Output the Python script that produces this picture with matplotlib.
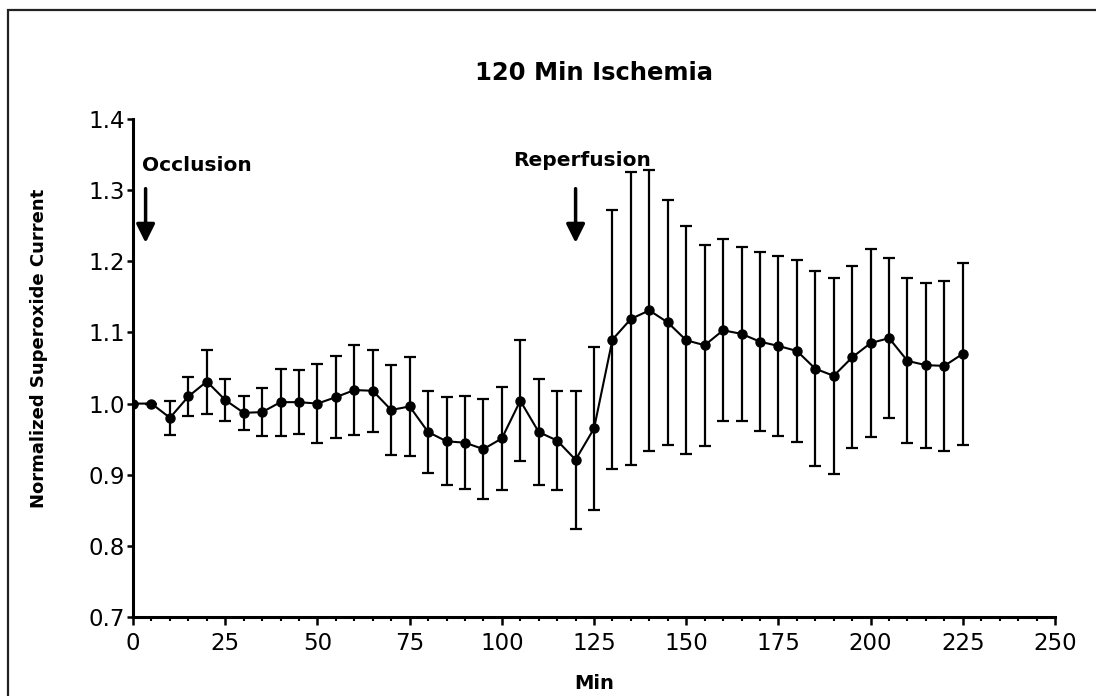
import numpy as np
import matplotlib
matplotlib.use("Agg")
from matplotlib import pyplot as plt
from matplotlib.patches import Rectangle

# time after occlusion (min), mean normalized current and SEM
minutes = np.arange(0, 230, 5)
mean_current = [1.000, 1.000, 0.980, 1.010, 1.031, 1.005, 0.987, 0.988, 1.002, 1.002,
                1.000, 1.009, 1.019, 1.018, 0.991, 0.996, 0.960, 0.947, 0.945, 0.936,
                0.951, 1.004, 0.960, 0.948, 0.921, 0.965, 1.090, 1.119, 1.131, 1.114,
                1.089, 1.082, 1.103, 1.098, 1.087, 1.081, 1.074, 1.049, 1.039, 1.065,
                1.085, 1.092, 1.060, 1.054, 1.053, 1.070]
sem_current = [0.000, 0.000, 0.024, 0.027, 0.045, 0.030, 0.024, 0.034, 0.047, 0.045,
               0.055, 0.058, 0.063, 0.058, 0.063, 0.070, 0.058, 0.062, 0.065, 0.070,
               0.072, 0.085, 0.074, 0.070, 0.097, 0.115, 0.182, 0.206, 0.198, 0.172,
               0.160, 0.141, 0.128, 0.122, 0.126, 0.127, 0.128, 0.137, 0.138, 0.128,
               0.132, 0.112, 0.116, 0.116, 0.120, 0.128]

x_ticks = np.arange(0, 275, 25)
y_ticks = [0.7, 0.8, 0.9, 1.0, 1.1, 1.2, 1.3, 1.4]
y_ticklabels = ["0.7", "0.8", "0.9", "1.0", "1.1", "1.2", "1.3", "1.4"]

occlusion_time = 3.4
reperfusion_time = 120

fig = plt.figure(figsize=(10.96, 6.96), dpi=100)
ax = fig.add_axes([0.1214, 0.1135, 0.8412, 0.7155])

# box round the whole panel
fig.patches.append(Rectangle((0.0073, -0.2), 1.5, 0.9856 + 0.2, transform=fig.transFigure,
                             fill=False, edgecolor="#222222", linewidth=1.6))

ax.errorbar(minutes, mean_current, yerr=sem_current, color="black", fmt="-o",
            markersize=6.5, linewidth=1.5, elinewidth=1.6, capsize=4.5, capthick=1.6)

ax.set_xlim(0, 250)
ax.set_ylim(0.7, 1.4)
ax.set_xticks(x_ticks)
ax.set_xticks(np.arange(0, 255, 5), minor=True)
ax.set_yticks(y_ticks)
ax.set_yticklabels(y_ticklabels)

for side in ["top", "right"]:
    ax.spines[side].set_visible(False)
for side in ["left", "bottom"]:
    ax.spines[side].set_linewidth(2.2)

ax.tick_params(axis="x", which="major", length=6, width=1.8, pad=5, labelsize=16.5)
ax.tick_params(axis="x", which="minor", length=3, width=1.5)
ax.tick_params(axis="y", which="major", length=4, width=1.8, pad=2, labelsize=16.5)

ax.set_title("120 Min Ischemia", fontsize=17.5, fontweight="bold", pad=28)
ax.set_xlabel("Min", fontsize=14, fontweight="bold")
ax.xaxis.set_label_coords(0.5, -0.115)
ax.set_ylabel("Normalized Superoxide Current", fontsize=13, fontweight="bold")
ax.yaxis.set_label_coords(-0.092, 0.54)

# event markers
ax.annotate("", xy=(occlusion_time, 1.222), xytext=(occlusion_time, 1.306),
            arrowprops=dict(arrowstyle="-|>", color="black", lw=2.5, mutation_scale=28))
ax.text(2.4, 1.335, "Occlusion", fontsize=14.5, fontweight="bold", ha="left", va="center")

ax.annotate("", xy=(reperfusion_time, 1.222), xytext=(reperfusion_time, 1.306),
            arrowprops=dict(arrowstyle="-|>", color="black", lw=2.5, mutation_scale=28))
ax.text(121.7, 1.341, "Reperfusion", fontsize=14.5, fontweight="bold", ha="center", va="center")

fig.savefig("out.png", dpi=100)
